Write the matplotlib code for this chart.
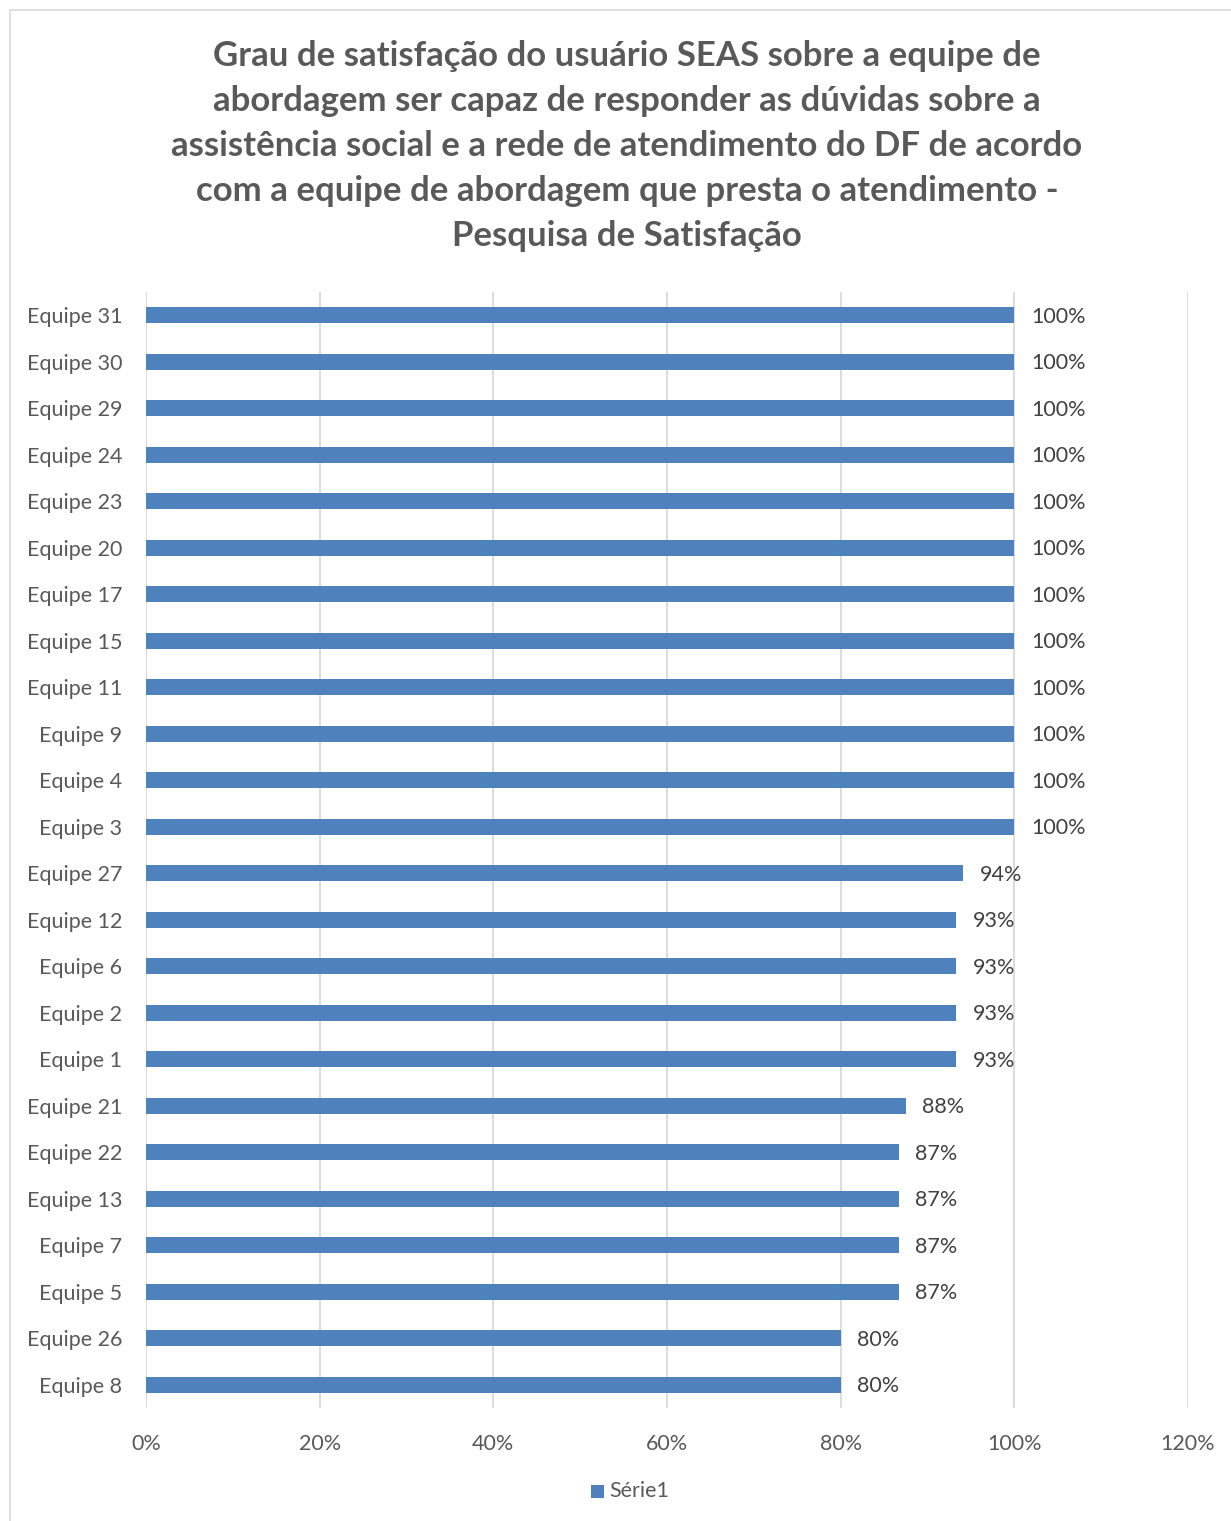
import matplotlib.pyplot as plt
from matplotlib.patches import Rectangle
from matplotlib.ticker import FuncFormatter

# data, bottom to top as drawn
equipes = ['Equipe 8', 'Equipe 26', 'Equipe 5', 'Equipe 7', 'Equipe 13', 'Equipe 22',
           'Equipe 21', 'Equipe 1', 'Equipe 2', 'Equipe 6', 'Equipe 12', 'Equipe 27',
           'Equipe 3', 'Equipe 4', 'Equipe 9', 'Equipe 11', 'Equipe 15', 'Equipe 17',
           'Equipe 20', 'Equipe 23', 'Equipe 24', 'Equipe 29', 'Equipe 30', 'Equipe 31']
valores = [0.80, 0.80, 0.867, 0.867, 0.867, 0.867,
           0.875, 0.933, 0.933, 0.933, 0.933, 0.941,
           1.0, 1.0, 1.0, 1.0, 1.0, 1.0,
           1.0, 1.0, 1.0, 1.0, 1.0, 1.0]

titulo = ('Grau de satisfação do usuário SEAS sobre a equipe de\n'
          'abordagem ser capaz de responder as dúvidas sobre a\n'
          'assistência social e a rede de atendimento do DF de acordo\n'
          'com a equipe de abordagem que presta o atendimento -\n'
          'Pesquisa de Satisfação')

plt.rcParams['font.family'] = ['Lato', 'DejaVu Sans']
cinza = '#595959'
azul = '#4f81bd'

W, H = 1231, 1521
fig = plt.figure(figsize=(W / 100, H / 100), dpi=100)
fig.patches.append(Rectangle((10 / W, -0.01), 1.1, 1 - 10 / H + 0.01, transform=fig.transFigure,
                             fill=False, edgecolor='#d9d9d9', linewidth=1.2))

ax = fig.add_axes([146 / W, 1 - 1408 / H, (1188 - 146) / W, (1408 - 292) / H])
y = range(len(equipes))
ax.barh(y, valores, height=0.35, color=azul, zorder=3)
for yi, v in zip(y, valores):
    ax.text(v + 0.019, yi - 0.03, f'{v:.0%}', va='center', ha='left', fontsize=15.5, color='#404040')

ax.set_xlim(0, 1.2)
ax.set_ylim(-0.5, len(equipes) - 0.5)
ax.set_xticks([0, 0.2, 0.4, 0.6, 0.8, 1.0, 1.2])
ax.xaxis.set_major_formatter(FuncFormatter(lambda v, p: f'{v:.0%}'))
ax.set_yticks(list(y))
ax.set_yticklabels(equipes)
ax.tick_params(axis='both', length=0, labelsize=15.5, labelcolor=cinza)
ax.tick_params(axis='x', pad=19)
ax.tick_params(axis='y', pad=17)
ax.grid(axis='x', color='#d9d9d9', linewidth=1.3, zorder=0)
for s in ax.spines.values():
    s.set_visible(False)

fig.text(627 / W, 1 - 146 / H, titulo, ha='center', va='center', fontsize=25,
         fontweight='bold', color=cinza, linespacing=1.5)

# legend
fig.patches.append(Rectangle((591 / W, 1 - 1498 / H), 13 / W, 13 / H, transform=fig.transFigure,
                             facecolor=azul, edgecolor='none'))
fig.text(609 / W, 1 - 1491 / H, 'Série1', ha='left', va='center', fontsize=15.5, color=cinza)

fig.savefig('out.png', dpi=100)
